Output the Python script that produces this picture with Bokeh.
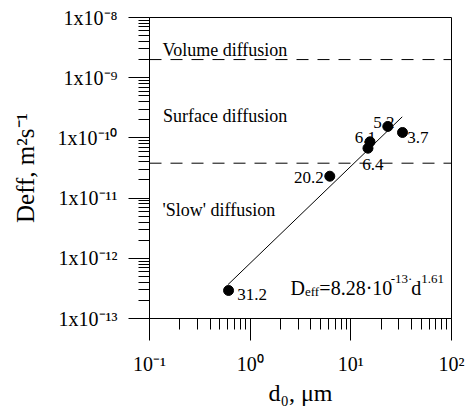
import math
from bokeh.plotting import figure
from bokeh.models import Label, Span, FixedTicker, CustomJSTickFormatter, LogAxis, Title
from bokeh.embed import file_html
from bokeh.resources import INLINE

# ---------------- data ----------------
d0 = [0.61, 6.18, 14.8, 15.5, 23.3, 32.6]
deff = [2.92e-13, 2.31e-11, 6.75e-11, 8.6e-11, 1.55e-10, 1.23e-10]
point_labels = ["31.2", "20.2", "6.4", "6.1", "5.2", "3.7"]
fit_a = 8.28e-13
fit_b = 1.61
fit_d = [0.6, 32.4]
regime_bounds = [2.0e-9, 3.8e-11]
regime_names = ["Volume diffusion", "Surface diffusion", "'Slow' diffusion"]
x_decades = [-1, 0, 1, 2]
y_decades = [-13, -12, -11, -10, -9, -8]
x_tick_labels = ["10⁻¹", "10⁰", "10¹", "10²"]
y_tick_labels = ["1x10⁻¹³", "1x10⁻¹²", "1x10⁻¹¹", "1x10⁻¹⁰", "1x10⁻⁹", "1x10⁻⁸"]
x_title = "d₀, μm"
y_title = "Deff, m²s⁻¹"

# ---------------- layout ----------------
W, H = 466, 411
L, R, T, B = 149, 451, 17, 318
FONT = "Liberation Serif"

def sx(px):
    return 10 ** (x_decades[0] + (x_decades[-1] - x_decades[0]) * (px - L) / (R - L))

def sy(py):
    return 10 ** (y_decades[-1] - (y_decades[-1] - y_decades[0]) * (py - T) / (B - T))

def px_of(x):
    return L + (math.log10(x) - x_decades[0]) * (R - L) / (x_decades[-1] - x_decades[0])

def py_of(y):
    return T + (y_decades[-1] - math.log10(y)) * (B - T) / (y_decades[-1] - y_decades[0])

TNR = {'0': 500, '1': 500, '2': 500, '3': 500, '4': 500, '5': 500, '6': 500, '7': 500,
       '8': 500, '9': 500, '.': 250, ',': 250, ' ': 250, '-': 333, '=': 564, '·': 250,
       'x': 500, 'D': 722, 'e': 444, 'f': 333, 'd': 500, 'm': 778, 's': 389, 'μ': 576}

def tw(s, size):
    return sum(TNR.get(c, 500) for c in s) * size / 1000.0

p = figure(width=W, height=H, x_axis_type="log", y_axis_type="log",
           x_axis_location=None, y_axis_location=None,
           x_range=(10.0 ** x_decades[0], 10.0 ** x_decades[-1]),
           y_range=(10.0 ** y_decades[0], 10.0 ** y_decades[-1]),
           output_backend="svg", toolbar_location=None,
           min_border_left=L, min_border_right=W - R,
           min_border_top=T, min_border_bottom=H - B)
p.background_fill_color = "white"
p.border_fill_color = "white"
p.outline_line_color = "black"
p.outline_line_width = 1
p.grid.visible = False

xt = FixedTicker(ticks=[10.0 ** e for e in x_decades],
                 minor_ticks=[m * 10.0 ** e for e in x_decades[:-1] for m in range(2, 10)])
yt = FixedTicker(ticks=[10.0 ** e for e in y_decades],
                 minor_ticks=[m * 10.0 ** e for e in y_decades[:-1] for m in range(2, 10)])

def tick_axis(ticker, major_out):
    # axis line and ticks only
    return LogAxis(ticker=ticker, formatter=CustomJSTickFormatter(code="return ''"),
                   major_tick_in=0, major_tick_out=major_out,
                   minor_tick_in=0, minor_tick_out=11,
                   major_label_standoff=0, major_label_text_font_size="0px",
                   axis_line_color="black", major_tick_line_color="black",
                   minor_tick_line_color="black",
                   major_tick_line_width=1, minor_tick_line_width=1)

def label_axis(ticker, labels, standoff):
    # tick labels only
    return LogAxis(ticker=ticker,
                   formatter=CustomJSTickFormatter(args=dict(labels=labels),
                                                   code="return labels[index]"),
                   major_tick_in=0, major_tick_out=0, minor_tick_in=0, minor_tick_out=0,
                   axis_line_color=None, major_tick_line_color=None,
                   minor_tick_line_color=None,
                   major_label_standoff=standoff, major_label_text_font=FONT,
                   major_label_text_font_size="20px", major_label_text_color="black")

p.add_layout(tick_axis(xt, 22), "below")
p.add_layout(label_axis(xt, x_tick_labels, 12), "below")
p.add_layout(Title(text=x_title, align="center", offset=-3, standoff=1,
                   text_font=FONT, text_font_size="24px", text_font_style="normal",
                   text_color="black"), "below")

p.add_layout(tick_axis(yt, 21), "left")
y_lab_axis = label_axis(yt, y_tick_labels, 11)
y_lab_axis.axis_label = y_title
y_lab_axis.axis_label_text_font = FONT
y_lab_axis.axis_label_text_font_style = "normal"
y_lab_axis.axis_label_text_color = "black"
y_lab_axis.axis_label_text_font_size = "25px"
y_lab_axis.axis_label_standoff = 16
p.add_layout(y_lab_axis, "left")

# regime boundaries
for yb in regime_bounds:
    p.add_layout(Span(location=yb, dimension="width", line_color="black",
                      line_width=1, line_dash="12 9"))

# fit line
fit_y = [fit_a * d ** fit_b for d in fit_d]
p.line(fit_d, fit_y, line_color="black", line_width=1)

# points
p.scatter(d0, deff, size=10, color="black")

def lab(text, px, py, size, align="left"):
    p.add_layout(Label(x=sx(px), y=sy(py), text=text, text_font=FONT,
                       text_font_size=f"{size}px", text_align=align,
                       text_baseline="alphabetic", text_color="black"))

# point labels: (dx, dy, align) offsets in pixels from point centre
offsets = {"31.2": (8.7, 4.0, "left"), "20.2": (-6.0, 1.6, "right"),
           "6.4": (-5.6, 16.3, "left"), "6.1": (-15.3, -4.6, "left"),
           "5.2": (-14.6, -4.3, "left"), "3.7": (4.7, 4.7, "left")}
for xv, yv, t in zip(d0, deff, point_labels):
    dx, dy, al = offsets[t]
    lab(t, px_of(xv) + dx, py_of(yv) + dy, 17, al)

# regime names
lab(regime_names[0], 162, 49.3, 18)
lab(regime_names[1], 162.5, 115, 18)
lab(regime_names[2], 162, 209.5, 18)

# equation
eq_pieces = [("D", 20, 0.0), ("eff", 13, -4.0), ("=8.28·10", 20, 0.0),
             ("-13·", 13, 8.7), ("d", 20, 0.0), ("1.61", 13, 8.7)]
ex = 290.0
for s, z, sh in eq_pieces:
    lab(s, ex, 287.0 - sh, z)
    ex += tw(s, z)

open("out.html", "w").write(file_html(p, INLINE))
